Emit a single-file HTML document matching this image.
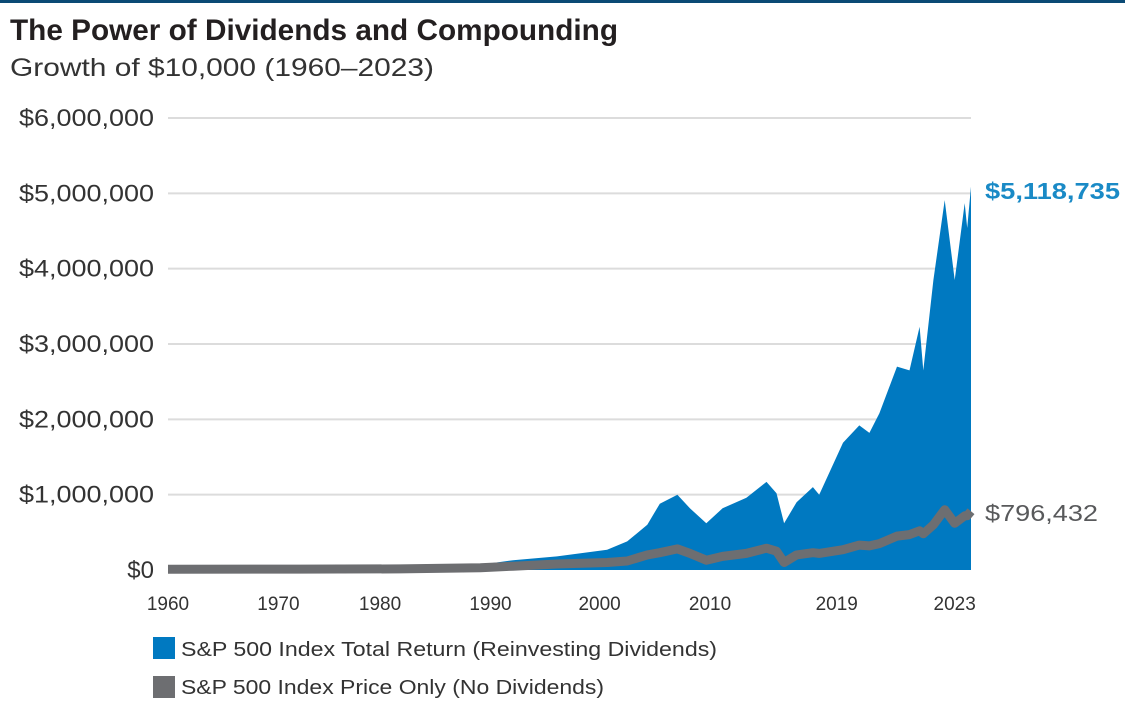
<!DOCTYPE html>
<html><head><meta charset="utf-8"><style>
html,body{margin:0;padding:0;background:#fff;}
svg{display:block;font-family:"Liberation Sans",sans-serif;}
</style></head><body>
<svg id="chart" width="1125" height="705" viewBox="0 0 1125 705">
<rect x="0" y="0" width="1125" height="3" fill="#0b4a75"/>
<text x="10" y="40" font-size="30" font-weight="bold" fill="#231f20" textLength="608" lengthAdjust="spacingAndGlyphs">The Power of Dividends and Compounding</text>
<text x="10" y="76" font-size="25" fill="#333" textLength="424" lengthAdjust="spacingAndGlyphs">Growth of $10,000 (1960–2023)</text>
<g id="grid"></g>
<g id="yticks"></g>
<g id="series"></g>
<g id="xticks"></g>
<text x="985" y="199" font-size="23" font-weight="bold" fill="#1a8ac6" textLength="135" lengthAdjust="spacingAndGlyphs">$5,118,735</text>
<text x="985" y="521" font-size="23" fill="#58595b" textLength="113" lengthAdjust="spacingAndGlyphs">$796,432</text>
<g>
<rect x="153" y="637" width="22" height="22" fill="#0079c1"/>
<text x="181" y="656" font-size="20" fill="#333" textLength="536" lengthAdjust="spacingAndGlyphs">S&amp;P 500 Index Total Return (Reinvesting Dividends)</text>
<rect x="153" y="676" width="22" height="22" fill="#6d6e71"/>
<text x="181" y="694" font-size="20" fill="#333" textLength="423" lengthAdjust="spacingAndGlyphs">S&amp;P 500 Index Price Only (No Dividends)</text>
</g>
</svg>
<script>
const years = [1960,1970.5,1978.5,1984.9,1987.5,1991.0,1995.0,1996.6,1998.2,1999.2,2000.6,2001.6,2002.9,2004.2,2006.1,2007.7,2008.5,2009.1,2010.1,2011.4,2011.9,2013.8,2015.1,2015.9,2016.7,2018.1,2019.1,2019.9,2020.2,2021.0,2021.9,2022.7,2023.5,2023.7,2024.0];
const totalReturn = [0.01,0.02,0.03,0.07,0.13,0.18,0.27,0.38,0.6,0.88,1.0,0.82,0.62,0.82,0.96,1.17,1.02,0.62,0.9,1.1,1.0,1.69,1.92,1.82,2.08,2.7,2.65,3.23,2.65,3.85,4.91,3.85,4.87,4.54,5.09];
const priceOnly = [0.01,0.012,0.015,0.03,0.05,0.08,0.1,0.12,0.2,0.23,0.28,0.22,0.13,0.18,0.22,0.29,0.25,0.1,0.2,0.23,0.22,0.27,0.33,0.32,0.35,0.45,0.47,0.52,0.48,0.6,0.8,0.62,0.72,0.72,0.78];
const yTickValues = [0,1,2,3,4,5,6];
const yTickLabels = ["$0","$1,000,000","$2,000,000","$3,000,000","$4,000,000","$5,000,000","$6,000,000"];
const xTickLabels = ["1960","1970","1980","1990","2000","2010","2019","2023"];
const xTickYears = [1960,1968.8,1976.9,1985.7,1994.4,2003.2,2013.3,2022.7];

const NS="http://www.w3.org/2000/svg";
const X0=168,X1=971,Y0=570,Y1=118;
const xScale=y=>X0+(y-1960)/(2024-1960)*(X1-X0);
const yScale=v=>Y0-v/6*(Y0-Y1);
function mk(tag,attrs,parent){const e=document.createElementNS(NS,tag);for(const k in attrs)e.setAttribute(k,attrs[k]);parent.appendChild(e);return e;}
const grid=document.getElementById('grid'),yt=document.getElementById('yticks'),ser=document.getElementById('series'),xt=document.getElementById('xticks');
yTickValues.forEach((v,i)=>{
  if(v>0){const l=mk('line',{x1:X0,x2:X1,y1:yScale(v),y2:yScale(v),stroke:'#dcdcdc','stroke-width':2},grid);
  
  }
  const lab=yTickLabels[i];
  const attrs={x:154,y:yScale(v)+8,'text-anchor':'end','font-size':24,fill:'#333'};
  if(lab.length>2){attrs.textLength=lab.length*13.5;attrs.lengthAdjust='spacingAndGlyphs';}
  const t=mk('text',attrs,yt);
  t.textContent=lab;
  
  
});
let d='M'+xScale(years[0])+','+Y0;
years.forEach((y,i)=>{d+=' L'+xScale(y).toFixed(1)+','+yScale(totalReturn[i]).toFixed(1);});
d+=' L'+xScale(years[years.length-1])+','+Y0+' Z';
const area=mk('path',{d:d,fill:'#0079c1'},ser);


const pd=years.map((y,i)=>(i?'L':'M')+xScale(y).toFixed(1)+','+yScale(priceOnly[i]).toFixed(1)).join(' ');
const line=mk('path',{d:pd,fill:'none',stroke:'#6d6e71','stroke-width':9,'stroke-linejoin':'round'},ser);


xTickLabels.forEach((lab,i)=>{
  const t=mk('text',{x:xScale(xTickYears[i]),y:610,'text-anchor':'middle','font-size':19,fill:'#333'},xt);
  t.textContent=lab;
  
  
});
</script>
</body></html>
